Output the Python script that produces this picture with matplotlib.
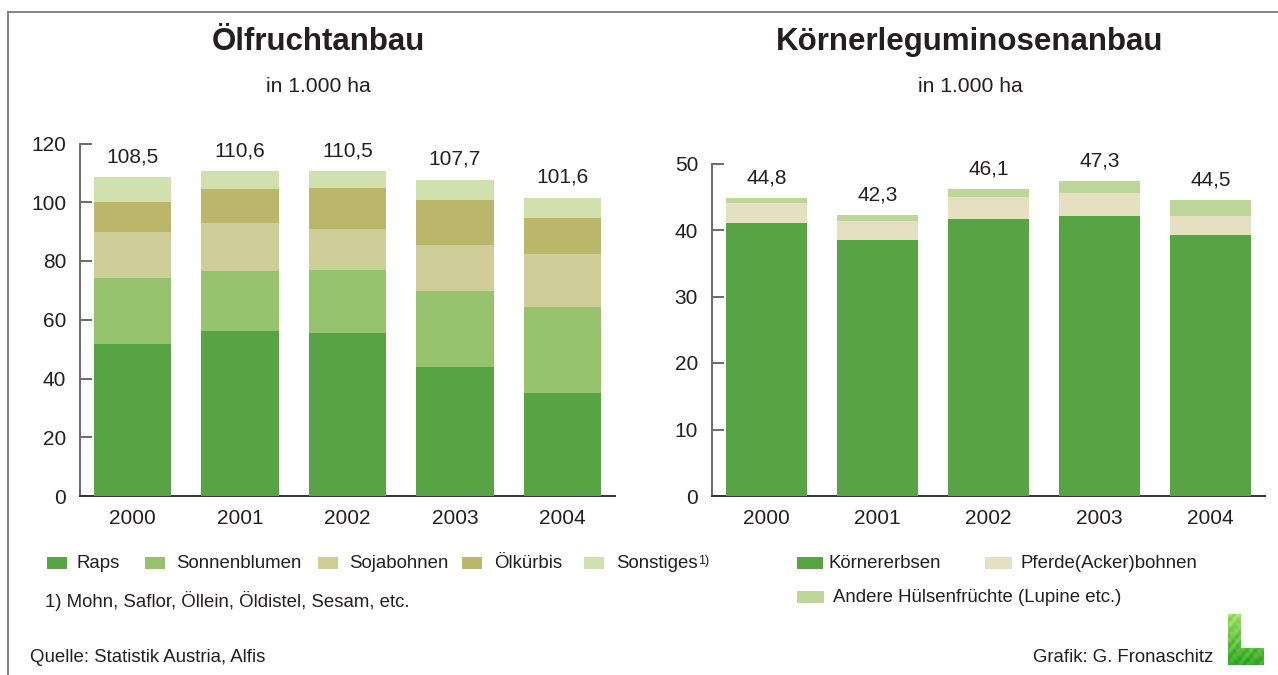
import numpy as np
import matplotlib
matplotlib.use("Agg")
import matplotlib.pyplot as plt
from matplotlib.patches import Rectangle
from matplotlib.lines import Line2D

plt.rcParams['font.family'] = ['Liberation Sans', 'DejaVu Sans']

# ---------------- data ----------------
years = ['2000', '2001', '2002', '2003', '2004']

oil_labels = ['Raps', 'Sonnenblumen', 'Sojabohnen', 'Ölkürbis', 'Sonstiges']
raps = [51.8, 56.3, 55.6, 44.0, 35.2]
sonnenblumen = [22.4, 20.3, 21.4, 25.8, 29.2]
sojabohnen = [15.6, 16.3, 13.9, 15.7, 18.0]
oelkuerbis = [10.2, 11.6, 13.9, 15.3, 12.2]
sonstiges = [8.5, 6.1, 5.7, 6.9, 7.0]
oil_colors = ['#58A445', '#97C36E', '#CFCE98', '#BAB76A', '#D0E0AE']

leg_labels = ['Körnererbsen', 'Pferde(Acker)bohnen', 'Andere Hülsenfrüchte (Lupine etc.)']
koernererbsen = [41.0, 38.5, 41.6, 42.1, 39.2]
pferdebohnen = [3.0, 2.9, 3.3, 3.5, 2.9]
andere = [0.8, 0.9, 1.2, 1.7, 2.4]
leg_colors = ['#58A445', '#E5E0C2', '#BDD69A']

oil_yticks = [0, 20, 40, 60, 80, 100, 120]
leg_yticks = [0, 10, 20, 30, 40, 50]

# ---------------- figure ----------------
W, H = 1278, 675
fig = plt.figure(figsize=(W / 100, H / 100), dpi=100)
fig.patch.set_facecolor('white')

def fx(px):
    return px / W

def fy(py):
    return 1 - py / H

axis_col = '#6a6a6a'
text_col = '#231f20'
small_fs = 13.4

def style_axes(ax, ymax, yticks):
    ax.set_ylim(0, ymax)
    ax.set_xlim(-0.49, 4.49)
    for s in ['top', 'right']:
        ax.spines[s].set_visible(False)
    ax.spines['left'].set_color(axis_col)
    ax.spines['bottom'].set_color('#333333')
    ax.spines['left'].set_linewidth(1.4)
    ax.spines['bottom'].set_linewidth(1.4)
    ax.set_yticks(yticks)
    ax.tick_params(axis='y', direction='in', length=8.5, width=1.4, color=axis_col,
                   labelsize=15, pad=10, labelcolor=text_col)
    ax.tick_params(axis='x', length=0, labelsize=15, pad=9, labelcolor=text_col)
    ax.set_xticks(range(len(years)))
    ax.set_xticklabels(years)

def stacked(ax, series, colors, width):
    x = np.arange(len(years))
    bottom = np.zeros(len(years))
    for vals, c in zip(series, colors):
        ax.bar(x, vals, width, bottom=bottom, color=c, edgecolor='none', zorder=3)
        bottom = bottom + np.array(vals)
    for xi, tot in zip(x, bottom):
        ax.annotate(f"{round(tot, 1):.1f}".replace('.', ','), (xi, tot),
                    xytext=(0, 14.5), textcoords='offset points',
                    ha='center', va='center', fontsize=15, color=text_col,
                    annotation_clip=False)

# left chart
ax1 = fig.add_axes([fx(80), fy(496), fx(615) - fx(80), fy(143.5) - fy(496)])
stacked(ax1, [raps, sonnenblumen, sojabohnen, oelkuerbis, sonstiges], oil_colors, 0.72)
style_axes(ax1, 120, oil_yticks)

# right chart
ax2 = fig.add_axes([fx(712), fy(496), fx(1265) - fx(712), fy(163.5) - fy(496)])
stacked(ax2, [koernererbsen, pferdebohnen, andere], leg_colors, 0.73)
style_axes(ax2, 50, leg_yticks)

# titles
fig.text(fx(318), fy(42), 'Ölfruchtanbau', ha='center', va='center',
         fontsize=22.5, fontweight='bold', color=text_col)
fig.text(fx(318), fy(86), 'in 1.000 ha', ha='center', va='center', fontsize=15.2, color=text_col)
fig.text(fx(970), fy(42), 'Körnerleguminosenanbau', ha='center', va='center',
         fontsize=22.5, fontweight='bold', color=text_col)
fig.text(fx(970), fy(86), 'in 1.000 ha', ha='center', va='center', fontsize=15.2, color=text_col)

# legends (manual)
def legend_item(px, py, pw, ph, color, label, tx, fs=small_fs):
    fig.add_artist(Rectangle((fx(px), fy(py + ph)), fx(pw), ph / H,
                             facecolor=color, edgecolor='none', transform=fig.transFigure))
    return fig.text(fx(tx), fy(py + ph / 2), label, ha='left', va='center',
                    fontsize=fs, color=text_col)

oil_patch_x = [47, 145, 318, 462, 584]
oil_text_x = [77, 176, 349, 494, 616]
for px, tx, c, lab in zip(oil_patch_x, oil_text_x, oil_colors, oil_labels):
    legend_item(px, 557, 20, 12, c, lab, tx)
fig.text(fx(698), fy(561), '1)', ha='left', va='center', fontsize=9, color=text_col)

fig.text(fx(45), fy(601), '1) Mohn, Saflor, Öllein, Öldistel, Sesam, etc.',
         ha='left', va='center', fontsize=small_fs, color=text_col)
fig.text(fx(30), fy(658), 'Quelle: Statistik Austria, Alfis',
         ha='left', va='center', fontsize=small_fs, color=text_col)

legend_item(797, 557, 26, 12, leg_colors[0], leg_labels[0], 829)
legend_item(985, 557, 27, 12, leg_colors[1], leg_labels[1], 1021)
legend_item(797, 591, 27, 12, leg_colors[2], leg_labels[2], 833)

fig.text(fx(1213), fy(657), 'Grafik: G. Fronaschitz', ha='right', va='center',
         fontsize=small_fs, color=text_col)

# logo (green "L")
axl = fig.add_axes([fx(1228), fy(665), fx(36), 51 / H])
axl.axis('off')
hh, ww = 51, 36
img = np.ones((hh, ww, 4))
yy, xx = np.mgrid[0:hh, 0:ww]
mask = (xx < 13) | (yy > 33)
t = yy / hh
g_r = 0.62 - 0.42 * t + 0.10 * np.sin(xx * 0.9) * np.cos(yy * 0.7)
g_g = 0.88 - 0.22 * t + 0.07 * np.cos(xx * 0.6 + yy * 0.5)
g_b = 0.40 - 0.25 * t + 0.08 * np.sin(yy * 0.8)
img[..., 0] = np.clip(g_r, 0, 1)
img[..., 1] = np.clip(g_g, 0, 1)
img[..., 2] = np.clip(g_b, 0, 1)
img[..., 3] = mask.astype(float)
axl.imshow(img, aspect='auto', interpolation='bilinear')

# frame lines
fig.add_artist(Line2D([fx(8), 1.0], [fy(12), fy(12)], color='#7a7a7a', lw=1.3,
                      transform=fig.transFigure))
fig.add_artist(Line2D([fx(8), fx(8)], [fy(12), 0.0], color='#7a7a7a', lw=1.3,
                      transform=fig.transFigure))

fig.savefig('out.png', dpi=100, facecolor='white')
